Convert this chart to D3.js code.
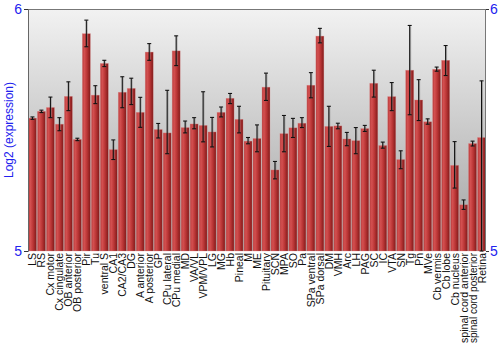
<!DOCTYPE html>
<html>
<head>
<meta charset="utf-8">
<script src="https://cdn.jsdelivr.net/npm/d3@7"></script>
<style>
  body { margin: 0; background: #fff; }
  text { font-family: "Liberation Sans", Arial, sans-serif; }
</style>
</head>
<body>
<svg id="chart"></svg>
<script>
// regions (x axis)
let regions = ['LS', 'RS', 'Cx motor', 'Cx cingulate', 'OB anterior', 'OB posterior', 'Pir', 'Tu',
  'ventral S', 'CA1', 'CA2/CA3', 'DG', 'A anterior', 'A posterior', 'GP', 'CPu lateral', 'CPu medial',
  'MD', 'VA/VL', 'VPM/VPL', 'LG', 'MG', 'Hb', 'Pineal', 'M', 'ME', 'Pituitary', 'SCN', 'MPA', 'SO',
  'Pa', 'SPa ventral', 'SPa dorsal', 'DM', 'VMH', 'Arc', 'LH', 'PAG', 'SC', 'IC', 'VTA', 'SN', 'Tg',
  'Pn', 'MVe', 'Cb vermis', 'Cb lobe', 'Cb nucleus', 'spinal cord anterior', 'spinal cord posterior', 'Retina'];

// mean log2 expression
let means = [5.549, 5.577, 5.593, 5.524, 5.639, 5.461, 5.898, 5.644, 5.775, 5.419, 5.656, 5.672,
  5.573, 5.822, 5.502, 5.488, 5.827, 5.510, 5.525, 5.519, 5.492, 5.573, 5.631, 5.544, 5.454,
  5.465, 5.677, 5.335, 5.485, 5.509, 5.528, 5.685, 5.888, 5.515, 5.517, 5.463, 5.456, 5.506,
  5.693, 5.436, 5.638, 5.378, 5.747, 5.624, 5.534, 5.751, 5.788, 5.354, 5.191, 5.444, 5.469];

// error bar low / high
let lows = [5.544, 5.572, 5.551, 5.497, 5.580, 5.456, 5.844, 5.609, 5.762, 5.378, 5.592, 5.605,
  5.511, 5.788, 5.467, 5.402, 5.766, 5.488, 5.505, 5.451, 5.430, 5.554, 5.609, 5.488, 5.443,
  5.410, 5.622, 5.298, 5.410, 5.469, 5.510, 5.633, 5.860, 5.432, 5.505, 5.435, 5.402, 5.494,
  5.636, 5.425, 5.580, 5.340, 5.563, 5.539, 5.524, 5.743, 5.725, 5.260, 5.172, 5.434, 5.000];
let highs = [5.554, 5.582, 5.636, 5.551, 5.699, 5.466, 5.954, 5.683, 5.788, 5.459, 5.720, 5.714,
  5.635, 5.857, 5.527, 5.664, 5.889, 5.537, 5.551, 5.658, 5.552, 5.595, 5.651, 5.598, 5.469,
  5.521, 5.735, 5.370, 5.560, 5.548, 5.551, 5.737, 5.920, 5.598, 5.528, 5.490, 5.510, 5.519,
  5.747, 5.450, 5.696, 5.414, 5.932, 5.708, 5.546, 5.760, 5.849, 5.452, 5.211, 5.454, 5.703];

let yTicks = [5, 6];

let width = 500, height = 350;
let margin = { top: 9, right: 14, bottom: 99, left: 28 };
let plotW = width - margin.left - margin.right;
let plotH = height - margin.top - margin.bottom;

let svg = d3.select('#chart')
  .attr('width', width)
  .attr('height', height);

let defs = svg.append('defs');

let bg = defs.append('linearGradient').attr('id', 'bg')
  .attr('x1', 0).attr('y1', 0).attr('x2', 0).attr('y2', 1);
bg.append('stop').attr('offset', '0%').attr('stop-color', '#f2f2f2');
bg.append('stop').attr('offset', '100%').attr('stop-color', '#a2a2a2');

let barGrad = defs.append('linearGradient').attr('id', 'barGrad')
  .attr('x1', 0).attr('y1', 0).attr('x2', 1).attr('y2', 0);
barGrad.append('stop').attr('offset', '0%').attr('stop-color', '#b83c3c');
barGrad.append('stop').attr('offset', '25%').attr('stop-color', '#d45050');
barGrad.append('stop').attr('offset', '60%').attr('stop-color', '#b83434');
barGrad.append('stop').attr('offset', '100%').attr('stop-color', '#801a1a');

let x = d3.scaleBand()
  .domain(regions)
  .range([0, plotW])
  .paddingInner(0.11)
  .paddingOuter(0.05);

let y = d3.scaleLinear()
  .domain([5, 6])
  .range([plotH, 0]);

let g = svg.append('g')
  .attr('transform', `translate(${margin.left},${margin.top})`);

g.append('rect')
  .attr('width', plotW)
  .attr('height', plotH)
  .attr('fill', 'url(#bg)');

let data = regions.map((r, i) => ({ name: r, mean: means[i], lo: lows[i], hi: highs[i] }));

// bars
g.selectAll('rect.bar')
  .data(data)
  .enter()
  .append('rect')
  .attr('class', 'bar')
  .attr('x', d => x(d.name))
  .attr('y', d => y(d.mean))
  .attr('width', x.bandwidth())
  .attr('height', d => plotH - y(d.mean))
  .attr('fill', 'url(#barGrad)')
  .attr('stroke', '#e08a8a')
  .attr('stroke-opacity', 0.5)
  .attr('stroke-width', 0.6);

// error bars
let err = g.selectAll('g.err')
  .data(data)
  .enter()
  .append('g')
  .attr('class', 'err')
  .attr('transform', d => `translate(${x(d.name) + x.bandwidth() / 2},0)`);

err.append('line')
  .attr('x1', 0.8).attr('x2', 0.8)
  .attr('y1', d => y(d.hi) + 1).attr('y2', d => y(d.lo) + 1)
  .attr('stroke', '#888').attr('stroke-opacity', 0.5).attr('stroke-width', 1.4);

err.append('line')
  .attr('x1', 0).attr('x2', 0)
  .attr('y1', d => y(d.hi)).attr('y2', d => y(d.lo))
  .attr('stroke', '#111').attr('stroke-width', 1.1);

err.selectAll('line.cap')
  .data(d => [d.hi, d.lo])
  .enter()
  .append('line')
  .attr('class', 'cap')
  .attr('x1', -2).attr('x2', 2)
  .attr('y1', v => y(v)).attr('y2', v => y(v))
  .attr('stroke', '#111').attr('stroke-width', 1.1);

// frame lines
g.append('line')
  .attr('x1', 0).attr('x2', plotW).attr('y1', 0.5).attr('y2', 0.5)
  .attr('stroke', '#777');
g.append('line')
  .attr('x1', plotW - 0.5).attr('x2', plotW - 0.5).attr('y1', 0).attr('y2', plotH)
  .attr('stroke', '#777');

// left axis
let leftAxis = g.append('g')
  .call(d3.axisLeft(y).tickValues(yTicks).tickFormat(d3.format('d')).tickSize(4).tickPadding(2));
leftAxis.select('.domain').attr('stroke', '#666');
leftAxis.selectAll('.tick line').attr('stroke', '#333');
leftAxis.selectAll('.tick text')
  .attr('fill', '#2222ee')
  .style('font-size', '14px')
  .attr('dy', '0.32em');

// right axis
let rightAxis = g.append('g')
  .attr('transform', `translate(${plotW},0)`)
  .call(d3.axisRight(y).tickValues(yTicks).tickFormat(d3.format('d')).tickSize(3).tickPadding(1));
rightAxis.select('.domain').remove();
rightAxis.selectAll('.tick line').attr('stroke', '#333');
rightAxis.selectAll('.tick text')
  .attr('fill', '#2222ee')
  .style('font-size', '14px');

// x labels
g.append('g')
  .attr('transform', `translate(0,${plotH})`)
  .selectAll('text')
  .data(regions)
  .enter()
  .append('text')
  .attr('transform', d => `translate(${x(d) + x.bandwidth() / 2 + 4},2) rotate(-90)`)
  .attr('text-anchor', 'end')
  .style('font-size', '10.5px')
  .attr('textLength', d => d.length > 18 ? 90 : null)
  .attr('lengthAdjust', 'spacingAndGlyphs')
  .attr('fill', '#111')
  .text(d => d);

// y title
svg.append('text')
  .attr('transform', `translate(13,${margin.top + plotH / 2}) rotate(-90)`)
  .attr('text-anchor', 'middle')
  .attr('fill', '#2222ee')
  .style('font-size', '12px')
  .text('Log2 (expression)');
</script>
</body>
</html>
